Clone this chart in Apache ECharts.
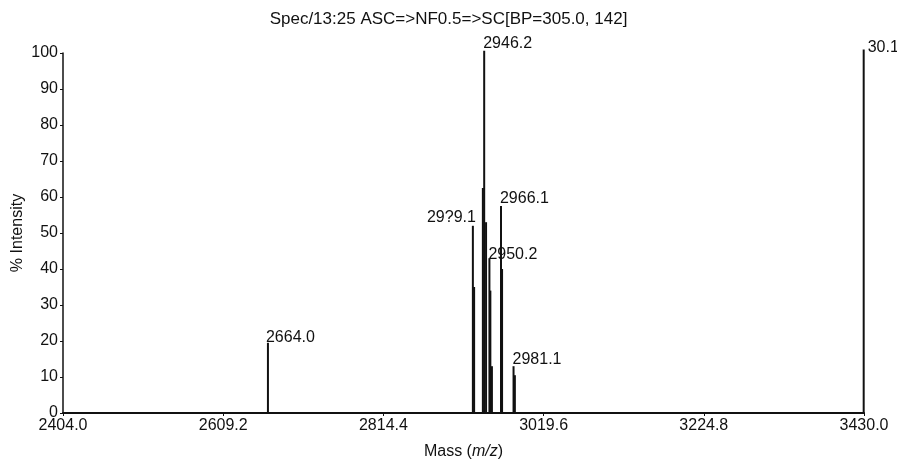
<!DOCTYPE html>
<html>
<head>
<meta charset="utf-8">
<script src="https://cdn.jsdelivr.net/npm/echarts@6/dist/echarts.min.js"></script>
<style>
  html, body { margin: 0; padding: 0; background: #fff; }
  #chart { width: 897px; height: 460px; }
</style>
</head>
<body>
<div id="chart"></div>
<script>
  // peaks (mass, % intensity, printed label)
  var peakMass = [2666.5, 2929.0, 2930.6, 2941.8, 2943.5, 2945.9, 2950.2, 2951.4, 2953.4, 2965.0, 2966.4, 2981.1, 2982.8, 3429.6]
  var peakIntensity = [19.5, 52, 35, 62.5, 100.6, 53, 43, 34, 13, 57.5, 40, 13, 10.5, 101]
  var peakLabels = ['2664.0', '29?9.1', '', '', '2946.2', '', '2950.2', '', '', '2966.1', '', '2981.1', '', '30.1']
  var xTicks = [2404.0, 2609.2, 2814.4, 3019.6, 3224.8, 3430.0]
  var yTicks = [0, 10, 20, 30, 40, 50, 60, 70, 80, 90, 100]

  var font = 'Liberation Sans, Arial, Helvetica, sans-serif'
  var ink = '#111'

  // label placement tweaks
  var labelStyle = {
    '29?9.1': { align: 'right', offset: [3, 2] },
    '2664.0': { align: 'left', offset: [-2, 5] },
    '2950.2': { align: 'left', offset: [-1, 6] },
    '30.1': { align: 'left', offset: [4, 8] }
  }

  var chart = echarts.init(document.getElementById('chart'))

  var data = peakMass.map(function (m, i) {
    var item = { value: [m, peakIntensity[i]] }
    if (peakLabels[i]) {
      var s = labelStyle[peakLabels[i]] || { align: 'left', offset: [-1, 3] }
      item.label = {
        show: true,
        position: 'top',
        distance: 2,
        align: s.align,
        offset: s.offset,
        formatter: peakLabels[i],
        color: ink,
        fontFamily: font,
        fontSize: 16
      }
    }
    return item
  })

  chart.setOption({
    backgroundColor: '#fff',
    animation: false,
    title: {
      text: 'Spec/13:25 ASC=>NF0.5=>SC[BP=305.0, 142]',
      left: 'center',
      top: 6,
      textStyle: { fontFamily: font, fontSize: 17, fontWeight: 'normal', color: ink }
    },
    grid: { left: 63, right: 33, top: 53, bottom: 47, containLabel: false, outerBoundsMode: 'none' },
    xAxis: {
      type: 'value',
      min: xTicks[0],
      max: xTicks[xTicks.length - 1],
      name: 'Mass ({i|m/z})',
      nameLocation: 'middle',
      nameGap: 31,
      nameTextStyle: {
        fontFamily: font, fontSize: 16, color: ink,
        rich: { i: { fontFamily: font, fontSize: 16, fontStyle: 'italic', color: ink } }
      },
      splitLine: { show: false },
      axisLine: { lineStyle: { color: ink, width: 2 } },
      axisTick: { customValues: xTicks, length: 3, lineStyle: { color: ink } },
      axisLabel: {
        customValues: xTicks,
        margin: 5,
        color: ink,
        fontFamily: font,
        fontSize: 16,
        formatter: function (v) { return v.toFixed(1) }
      }
    },
    yAxis: {
      type: 'value',
      min: yTicks[0],
      max: yTicks[yTicks.length - 1],
      interval: 10,
      name: '% Intensity',
      nameLocation: 'middle',
      nameGap: 37,
      nameMoveOverlap: false,
      nameTextStyle: { fontFamily: font, fontSize: 16, color: ink },
      splitLine: { show: false },
      axisLine: { show: true, lineStyle: { color: ink, width: 1.5 } },
      axisTick: { show: true, length: 3, lineStyle: { color: ink } },
      axisLabel: { margin: 5, color: ink, fontFamily: font, fontSize: 16 }
    },
    series: [{
      type: 'bar',
      barWidth: 2,
      clip: false,
      itemStyle: { color: ink },
      data: data
    }]
  })
</script>
</body>
</html>
